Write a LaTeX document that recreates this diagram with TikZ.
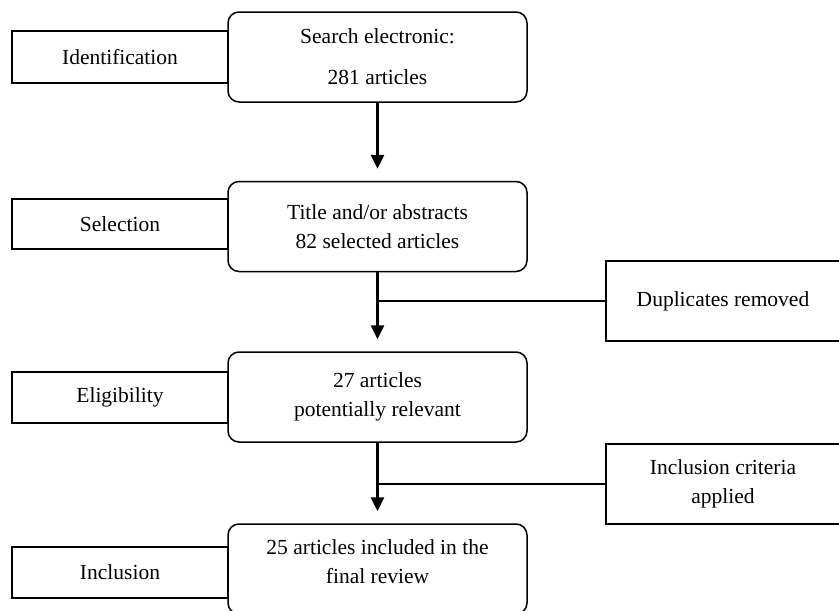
\documentclass[tikz,border=0pt]{standalone}
\usepackage{fontspec}
\setmainfont{Liberation Serif}
\usetikzlibrary{arrows.meta}
\begin{document}
\begin{tikzpicture}[x=1pt,y=-1pt,
  every node/.style={font=\fontsize{21.5}{29}\selectfont, align=center, inner sep=0pt},
  stagebox/.style={draw, line width=1.5pt, rounded corners=11pt, minimum width=299pt, minimum height=90pt},
  phasebox/.style={draw, line width=1.5pt, minimum width=216pt},
  notebox/.style={draw, line width=1.5pt, minimum width=234pt},
  flowarrow/.style={line width=2.8pt, -{Triangle[length=14pt,width=13pt]}, shorten >=12pt},
  sideline/.style={line width=2pt}]
\clip (0,0) rectangle (839,611);
\fill[white] (0,0) rectangle (839,611);
% main stage boxes
\node[stagebox] (s1) at (377.5,57) {Search electronic:\\[12pt]281 articles};
\node[stagebox] (s2) at (377.5,226.5) {Title and/or abstracts\\82 selected articles};
\node[stagebox] (s3) at (377.5,397) {27 articles\\potentially relevant};
\node[stagebox] (s4) at (377.5,569) {};
\node at (377.5,561.5) (s4t) {25 articles included in the\\final review};
% phase labels
\node[phasebox, minimum height=52pt] (p1) at (120,57) {Identification};
\node[phasebox, minimum height=50pt] (p2) at (120,224) {Selection};
\node[phasebox, minimum height=51pt] (p3) at (120,397.5) {Eligibility};
\node[phasebox, minimum height=51pt] (p4) at (120,572.5) {Inclusion};
% side notes
\node[notebox, minimum height=80pt] (n1) at (723,301) {Duplicates removed};
\node[notebox, minimum height=80pt] (n2) at (723,484) {Inclusion criteria\\applied};
% arrows
\draw[flowarrow] (s1.south) -- (s2.north);
\draw[flowarrow] (s2.south) -- (s3.north);
\draw[flowarrow] (s3.south) -- (s4.north);
\draw[sideline] (n1.west) -- (n1.west -| s2.south);
\draw[sideline] (n2.west) -- (n2.west -| s3.south);
\end{tikzpicture}
\end{document}
